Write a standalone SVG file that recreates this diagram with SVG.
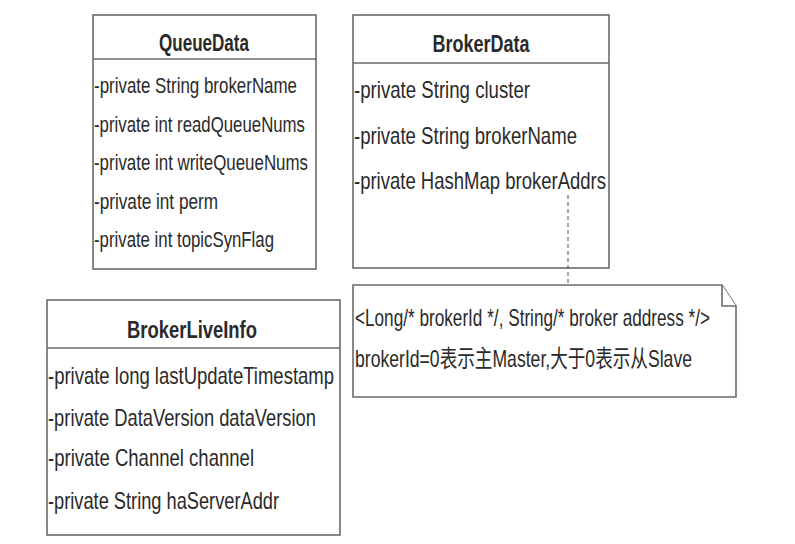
<svg xmlns="http://www.w3.org/2000/svg" width="795" height="544" viewBox="0 0 795 544">
<style>
.box{fill:#fff;stroke:#6a6a6a;stroke-width:1.6}
.sep{stroke:#6a6a6a;stroke-width:1.6}
.t{font-family:"Liberation Sans",Arial,sans-serif;font-size:24px;fill:#2a2a2a}
.q{font-family:"Liberation Sans",Arial,sans-serif;font-size:22px;fill:#2a2a2a}
.h{font-family:"Liberation Sans",Arial,sans-serif;font-size:24px;font-weight:bold;fill:#2a2a2a;text-anchor:middle}
.c{font-family:"Liberation Sans","Noto Sans CJK SC",sans-serif;font-size:24px;fill:#2a2a2a}
</style>
<rect width="795" height="544" fill="#fff"/>
<g id="QueueData">
<rect class="box" x="93" y="15" width="223" height="254"/>
<line class="sep" x1="93" y1="59" x2="316" y2="59"/>
<text class="h" x="204" y="51" textLength="90" lengthAdjust="spacingAndGlyphs">QueueData</text>
<text class="q" x="94" y="93" textLength="203" lengthAdjust="spacingAndGlyphs">-private String brokerName</text>
<text class="q" x="94" y="132" textLength="211" lengthAdjust="spacingAndGlyphs">-private int readQueueNums</text>
<text class="q" x="94" y="170" textLength="214" lengthAdjust="spacingAndGlyphs">-private int writeQueueNums</text>
<text class="q" x="94" y="209" textLength="124" lengthAdjust="spacingAndGlyphs">-private int perm</text>
<text class="q" x="94" y="247" textLength="180" lengthAdjust="spacingAndGlyphs">-private int topicSynFlag</text>
</g>
<g id="BrokerData">
<rect class="box" x="353" y="15" width="256" height="253"/>
<line class="sep" x1="353" y1="63" x2="609" y2="63"/>
<text class="h" x="481" y="52" textLength="97" lengthAdjust="spacingAndGlyphs">BrokerData</text>
<text class="t" x="354" y="98" textLength="176" lengthAdjust="spacingAndGlyphs">-private String cluster</text>
<text class="t" x="354" y="144" textLength="223" lengthAdjust="spacingAndGlyphs">-private String brokerName</text>
<text class="t" x="354" y="189" textLength="252" lengthAdjust="spacingAndGlyphs">-private HashMap brokerAddrs</text>
</g>
<g id="BrokerLiveInfo">
<rect class="box" x="47" y="300" width="293" height="235"/>
<line class="sep" x1="47" y1="348" x2="340" y2="348"/>
<text class="h" x="192" y="338" textLength="130" lengthAdjust="spacingAndGlyphs">BrokerLiveInfo</text>
<text class="t" x="48" y="384" textLength="286" lengthAdjust="spacingAndGlyphs">-private long lastUpdateTimestamp</text>
<text class="t" x="48" y="426" textLength="268" lengthAdjust="spacingAndGlyphs">-private DataVersion dataVersion</text>
<text class="t" x="48" y="466" textLength="206" lengthAdjust="spacingAndGlyphs">-private Channel channel</text>
<text class="t" x="48" y="509" textLength="231" lengthAdjust="spacingAndGlyphs">-private String haServerAddr</text>
</g>
<g id="Note">
<path class="box" d="M353 285 H722 L736 306 V397 H353 Z"/>
<path class="box" d="M722 285 V306 H736" fill="none"/>
<text class="t" x="355" y="326" textLength="355" lengthAdjust="spacingAndGlyphs">&lt;Long/* brokerId */, String/* broker address */&gt;</text>
<text class="c" x="355" y="367" textLength="337" lengthAdjust="spacingAndGlyphs">brokerId=0表示主Master,大于0表示从Slave</text>
</g>
<g id="connectors">
<line x1="568" y1="195" x2="568" y2="285" stroke="#555" stroke-width="1" stroke-dasharray="4,3"/>
</g>
</svg>
